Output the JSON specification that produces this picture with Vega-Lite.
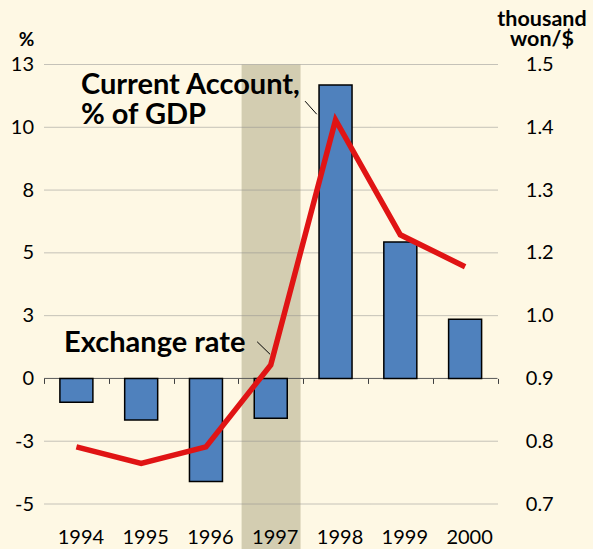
{
  "$schema": "https://vega.github.io/schema/vega-lite/v6.json",
  "width": 453.5,
  "height": 439.5,
  "autosize": {"type": "none"},
  "padding": {"left": 44, "top": 64.5, "right": 95.5, "bottom": 45},
  "background": "#FEF8E4",
  "config": {"view": {"stroke": null}, "font": "Lato"},
  "datasets": {
    "korea": [
      {"year": 1994, "ca": -0.95, "fx": 0.804},
      {"year": 1995, "ca": -1.66, "fx": 0.774},
      {"year": 1996, "ca": -4.1, "fx": 0.804},
      {"year": 1997, "ca": -1.59, "fx": 0.953},
      {"year": 1998, "ca": 11.68, "fx": 1.399},
      {"year": 1999, "ca": 5.43, "fx": 1.19},
      {"year": 2000, "ca": 2.36, "fx": 1.132}
    ],
    "grid": [{"v": -5}, {"v": -2.5}, {"v": 2.5}, {"v": 5}, {"v": 7.5}, {"v": 10}, {"v": 12.5}],
    "zero": [{"v": 0}],
    "crisis": [{"start": 1996.55, "end": 1997.46}],
    "notes": [
      {"label": "Current Account,\n% of GDP", "x": 1994.07, "y": 11.32},
      {"label": "Exchange rate", "x": 1993.81, "y": 1.06}
    ],
    "leaders": [
      {"x": 1997.53, "y": 11.04, "x2": 1997.71, "y2": 10.52},
      {"x": 1996.79, "y": 1.46, "x2": 1996.99, "y2": 0.96}
    ]
  },
  "layer": [
    {
      "data": {"name": "crisis"},
      "mark": {"type": "rect", "color": "#D3CDB1"},
      "encoding": {
        "x": {"field": "start", "type": "quantitative",
          "scale": {"domain": [1993.5, 2000.5], "nice": false, "zero": false, "padding": 0},
          "axis": {"orient": "bottom", "values": [1993.5, 1994.5, 1995.5, 1996.5, 1997.5, 1998.5, 1999.5, 2000.5],
            "labels": false, "domain": false, "grid": false, "ticks": true, "tickSize": 5,
            "tickColor": "#404040", "tickWidth": 1, "offset": -125.57, "title": null, "zindex": 0}},
        "x2": {"field": "end"},
        "y": {"datum": 12.5, "type": "quantitative",
          "scale": {"domain": [-5, 12.5], "nice": false, "zero": false}, "axis": null},
        "y2": {"datum": -7}
      }
    },
    {
      "data": {"name": "grid"},
      "mark": {"type": "rule", "color": "#8c8c8c", "strokeDash": [1, 1], "strokeWidth": 1},
      "encoding": {
        "y": {"field": "v", "type": "quantitative",
          "scale": {"domain": [-5, 12.5], "nice": false, "zero": false}, "axis": null}
      }
    },
    {
      "data": {"name": "zero"},
      "mark": {"type": "rule", "color": "#595959", "strokeWidth": 1},
      "encoding": {
        "y": {"field": "v", "type": "quantitative",
          "scale": {"domain": [-5, 12.5], "nice": false, "zero": false}, "axis": null}
      }
    },
    {
      "data": {"name": "korea"},
      "mark": {"type": "bar", "width": 33, "color": "#4F81BD", "stroke": "#000000", "strokeWidth": 1.5},
      "encoding": {
        "x": {"field": "year", "type": "quantitative",
          "scale": {"domain": [1993.5, 2000.5], "nice": false, "zero": false, "padding": 0},
          "axis": {"orient": "bottom", "values": [1994, 1995, 1996, 1997, 1998, 1999, 2000], "format": "d",
            "domain": false, "ticks": false, "grid": false, "labelPadding": 23,
            "labelFont": "Lato", "labelFontSize": 20, "labelColor": "#000000", "labelOffset": 4,
            "labelFlush": false, "labelOverlap": false, "title": null, "zindex": 1}},
        "y": {"field": "ca", "type": "quantitative",
          "scale": {"domain": [-5, 12.5], "nice": false, "zero": false},
          "axis": {"orient": "left", "values": [-5, -2.5, 0, 2.5, 5, 7.5, 10, 12.5], "format": ".0f",
            "labelExpr": "replace(datum.label, '\u2212', '-')",
            "grid": false, "domain": false, "ticks": false, "labelPadding": 10.5,
            "labelFont": "Lato", "labelFontSize": 20, "labelColor": "#000000",
            "labelFlush": false, "labelOverlap": false,
            "title": "%", "titleAngle": 0, "titleX": -18, "titleY": -19.5,
            "titleAlign": "center", "titleBaseline": "alphabetic", "titleFont": "Lato",
            "titleFontSize": 19, "titleFontWeight": "bold", "titleColor": "#000000"}}
      }
    },
    {
      "data": {"name": "leaders"},
      "mark": {"type": "rule", "color": "#000000", "strokeWidth": 1},
      "encoding": {
        "x": {"field": "x", "type": "quantitative",
          "scale": {"domain": [1993.5, 2000.5], "nice": false, "zero": false, "padding": 0}, "axis": null},
        "x2": {"field": "x2"},
        "y": {"field": "y", "type": "quantitative",
          "scale": {"domain": [-5, 12.5], "nice": false, "zero": false}, "axis": null},
        "y2": {"field": "y2"}
      }
    },
    {
      "data": {"name": "notes"},
      "mark": {"type": "text", "align": "left", "baseline": "alphabetic", "font": "Lato",
        "fontWeight": "bold", "fontSize": 29, "lineBreak": "\n", "lineHeight": 30, "color": "#000000"},
      "encoding": {
        "x": {"field": "x", "type": "quantitative",
          "scale": {"domain": [1993.5, 2000.5], "nice": false, "zero": false, "padding": 0}, "axis": null},
        "y": {"field": "y", "type": "quantitative",
          "scale": {"domain": [-5, 12.5], "nice": false, "zero": false}, "axis": null},
        "text": {"field": "label"}
      }
    },
    {
      "data": {"name": "korea"},
      "mark": {"type": "line", "color": "#E01414", "strokeWidth": 5.5, "strokeJoin": "miter", "strokeCap": "butt"},
      "encoding": {
        "x": {"field": "year", "type": "quantitative",
          "scale": {"domain": [1993.5, 2000.5], "nice": false, "zero": false, "padding": 0}, "axis": null},
        "y": {"field": "fx", "type": "quantitative",
          "scale": {"domain": [0.7, 1.5], "nice": false, "zero": false},
          "axis": {"orient": "right",
            "values": [0.7, 0.8142857, 0.9285714, 1.0428571, 1.1571429, 1.2714286, 1.3857143, 1.5],
            "format": ".1f", "grid": false, "domain": false, "ticks": false, "labelPadding": 27.8,
            "labelFont": "Lato", "labelFontSize": 20, "labelColor": "#000000",
            "labelFlush": false, "labelOverlap": false,
            "title": ["thousand", "won/$"], "titleAngle": 0, "titleX": 44, "titleY": -39.5,
            "titleAlign": "center", "titleBaseline": "alphabetic", "titleFont": "Lato",
            "titleFontSize": 21.5, "titleFontWeight": "bold", "titleLineHeight": 20.5, "titleColor": "#000000"}}
      }
    }
  ],
  "resolve": {"scale": {"y": "independent"}, "axis": {"x": "independent"}}
}
